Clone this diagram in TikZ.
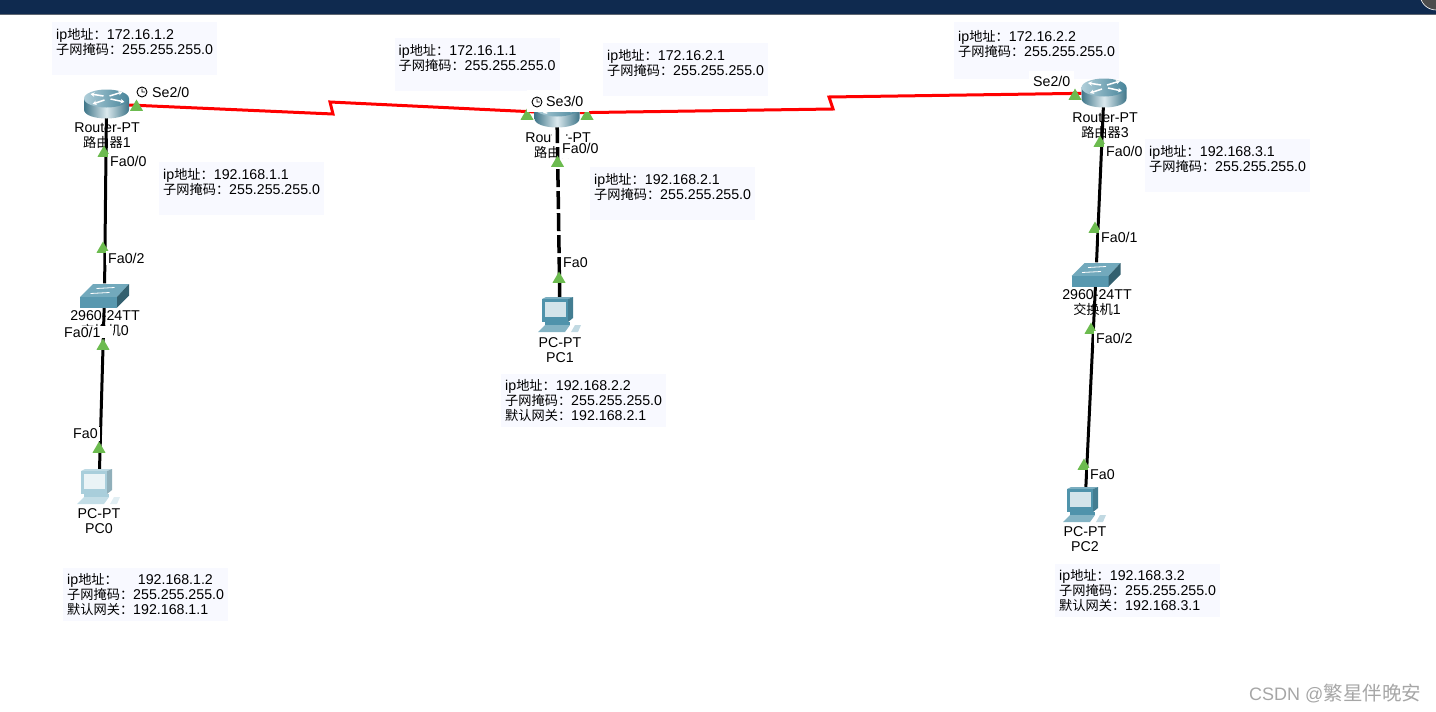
\documentclass[tikz,border=0pt]{standalone}
\usepackage{fontspec}
\setmainfont{Liberation Sans}
\newfontfamily\cjk[Scale=0.93]{Noto Sans CJK SC}
\usetikzlibrary{shapes.geometric,arrows.meta}
\definecolor{infobg}{HTML}{F8F9FF}
\definecolor{topbar}{HTML}{0F2A4F}
\definecolor{portgreen}{HTML}{6CBB4F}
\definecolor{iconteal}{HTML}{4F93AB}
\definecolor{iconpale}{HTML}{A9CEDB}
\newcommand{\ipaddr}{ip{\cjk 地址：}}
\newcommand{\netmask}{{\cjk 子网掩码：}}
\newcommand{\gateway}{{\cjk 默认网关：}}
\begin{document}
\begin{tikzpicture}[x=1pt,y=-1pt,
		every node/.style={inner sep=0,font=\fontsize{14.2}{15}\selectfont},
		infobox/.style={anchor=north west,fill=infobg,text width=157pt,minimum height=53pt,
			inner sep=4pt,align=left},
		devlabel/.style={align=center},
		icon/.style={minimum width=#1,minimum height=24pt},
		portmark/.style={regular polygon,regular polygon sides=3,fill=portgreen,minimum size=15pt},
		portlabel/.style={anchor=west,fill=white,inner xsep=2pt,inner ysep=2pt},
		seriallink/.style={red,line width=3pt,line join=miter},
		cooper/.style={black,line width=3pt},
		pics/routericon/.style={code={
				\path[left color=iconteal!80!black,right color=iconteal!80!black,middle color=white!80!iconteal,draw=none]
				(-22.5,-5.5) -- (-22.5,5.5) .. controls (-22.5,17.5) and (22.5,17.5) .. (22.5,5.5) -- (22.5,-5.5) -- cycle;
				\path[left color=iconteal!45!white,right color=iconteal!90!black] (0,-5.5) ellipse [x radius=22.5,y radius=9];
				\foreach \a/\b/\c/\d in {-3/-8/-16/-10,3/-8/16/-12,-2/-4/-14/0,4/-5/18/-2}
				\draw[white,line width=1.5pt,-{Stealth[length=4pt,width=4.5pt]}] (\a,\b) -- (\c,\d);
		}},
		pics/switchicon/.style={code={
				\fill[iconteal!80!white] (-11.5,-11.5) -- (24.5,-11.5) -- (12.5,1.5) -- (-24.5,1.5) -- cycle;
				\fill[iconteal!95!white] (-24.5,1.5) rectangle (12.5,12);
				\fill[iconteal!65!black] (12.5,1.5) -- (24.5,-11.5) -- (24.5,0) -- (12.5,12) -- cycle;
				\draw[white,line width=.8pt] (-8,-7) -- (10,-8) (-14,-2) -- (5,-3);
		}},
		pics/pcicon/.style={code={
				\fill[#1!75!white] (-18,-16) -- (-14,-18) -- (13,-18) -- (8,-16) -- cycle;
				\fill[#1!85!black] (8,-16) -- (13,-18) -- (13,3) -- (8,7) -- cycle;
				\fill[#1] (-18,-16) rectangle (8,7);
				\fill[#1!25!white] (-15,-13) rectangle (6,2);
				\fill[#1] (-15,7) rectangle (10,10);
				\fill[#1!70!white] (-22,17) -- (-15,10) -- (10,10) -- (5,17) -- cycle;
				\fill[#1!35!white] (15,10) -- (21,10) -- (18,17) -- (11,17) -- cycle;
		}},
		pics/clockicon/.style={code={
				\draw[black,line width=.9pt] (0,0) circle (5) (0,-3.5) -- (0,0) -- (3,0);
		}}]
	\path[use as bounding box,clip] (0,0) rectangle (1436,712);
	% window bar
	\fill[topbar] (0,0) rectangle (1436,14);
	\fill[gray!70!topbar] (0,14) rectangle (1436,15);
	\draw[fill=black!70,draw=white,line width=.6pt] (1436,-6) circle (16);
	% address boxes
	\node[infobox] (boxa) at (52,22) {\ipaddr 172.16.1.2\\\netmask 255.255.255.0\\~};
	\node[infobox] (boxb) at (394.5,38) {\ipaddr 172.16.1.1\\\netmask 255.255.255.0\\~};
	\node[infobox] (boxc) at (603,43) {\ipaddr 172.16.2.1\\\netmask 255.255.255.0\\~};
	\node[infobox,minimum height=57pt] (boxd) at (954,22) {\ipaddr 172.16.2.2\\\netmask 255.255.255.0\\~};
	\node[infobox] (boxe) at (159,162) {\ipaddr 192.168.1.1\\\netmask 255.255.255.0\\~};
	\node[infobox] (boxf) at (590,167) {\ipaddr 192.168.2.1\\\netmask 255.255.255.0\\~};
	\node[infobox] (boxg) at (1145,139) {\ipaddr 192.168.3.1\\\netmask 255.255.255.0\\~};
	\node[infobox] (boxh) at (63,568) {\ipaddr\hspace{20pt}192.168.1.2\\\netmask 255.255.255.0\\\gateway 192.168.1.1};
	\node[infobox] (boxi) at (501,374) {\ipaddr 192.168.2.2\\\netmask 255.255.255.0\\\gateway 192.168.2.1};
	\node[infobox] (boxj) at (1055,564) {\ipaddr 192.168.3.2\\\netmask 255.255.255.0\\\gateway 192.168.3.1};
	% devices
	\node[icon=45pt] (r1) at (106.5,104) {};
	\node[icon=45pt] (r2) at (557,113) {};
	\node[icon=45pt] (r3) at (1104,93) {};
	\node[icon=49pt] (sw0) at (104.5,295.5) {};
	\node[icon=49pt] (sw1) at (1096,274.5) {};
	\node[icon=44pt,minimum height=36pt] (pc0) at (99,487) {};
	\node[icon=44pt,minimum height=36pt] (pc1) at (560,315) {};
	\node[icon=44pt,minimum height=36pt] (pc2) at (1085,505) {};
	\coordinate (zig1) at (333,114);
	\coordinate (zig2) at (330,102);
	\coordinate (zig3) at (833,109);
	\coordinate (zig4) at (829,97);
	% links
	\draw[seriallink] (r1) -- (zig1) -- (zig2) -- (r2);
	\draw[seriallink] (r2) -- (zig3) -- (zig4) -- (r3);
	\draw[cooper] (r1) -- (sw0);
	\draw[cooper] (sw0) -- (pc0);
	\draw[cooper] (r3) -- (sw1);
	\draw[cooper] (sw1) -- (pc2);
	\node[devlabel] (r1lab) at (107,136) {Router-PT\\{\cjk 路由器}1};
	\node[devlabel] (r2lab) at (558,146) {Router-PT\\{\cjk 路由器}2};
	\node[devlabel] (r3lab) at (1105,126) {Router-PT\\{\cjk 路由器}3};
	\node[devlabel] (sw0lab) at (105,324) {2960-24TT\\{\cjk 交换机}0};
	\node[devlabel] (sw1lab) at (1097,303) {2960-24TT\\{\cjk 交换机}1};
	\node[devlabel] (pc0lab) at (99,521.5) {PC-PT\\PC0};
	\node[devlabel] (pc1lab) at (560,350) {PC-PT\\PC1};
	\node[devlabel] (pc2lab) at (1085,539.5) {PC-PT\\PC2};
	\fill[white] (552,130) rectangle (566,146);
	\draw[cooper,line width=3.5pt,dash pattern=on 18pt off 4pt] (r2) -- (pc1);
	\path (r1) pic {routericon} (r2) pic {routericon} (r3) pic {routericon};
	\path (sw0) pic {switchicon} (sw1) pic {switchicon};
	\path (pc0) pic {pcicon=iconpale} (pc1) pic {pcicon=iconteal} (pc2) pic {pcicon=iconteal};
	% port marks
	\foreach \px/\py/\pname in {136.5/107/a,104/153/b,103/249/c,103/346/d,99/449/e,527/116/f,587/116/g,
		557.5/163/h,559/279/i,1075/96/j,1100/143/k,1095/229/l,1091/330/m,1084/466/n}
	\node[portmark] (mark\pname) at (\px,\py) {};
	% port labels
	\node[portlabel] (se20a) at (150,92) {Se2/0};
	\node[portlabel] (fa00a) at (108,161) {Fa0/0};
	\node[portlabel] (fa02a) at (106,258) {Fa0/2};
	\node[portlabel,inner ysep=1pt] (fa01a) at (62,332) {Fa0/1\hspace*{10pt}};
	\node[portlabel] (fa0a) at (71,434) {Fa0};
	\node[portlabel,inner xsep=0,inner ysep=6pt] (se30) at (527,101) {\hspace*{19pt}Se3/0\hspace*{6pt}};
	\node[portlabel,anchor=base west,inner ysep=1pt,text height=10pt,text depth=4pt] (fa00b) at (560,153) {Fa0/0};
	\node[portlabel] (fa0b) at (561,263) {Fa0};
	\node[portlabel,inner xsep=4pt,inner ysep=5pt] (se20b) at (1029,81) {Se2/0};
	\node[portlabel] (fa00c) at (1104,151) {Fa0/0};
	\node[portlabel] (fa01c) at (1099,237) {Fa0/1};
	\node[portlabel] (fa02c) at (1094,338) {Fa0/2};
	\node[portlabel] (fa0c) at (1088,475) {Fa0};
	\path (142,92) pic {clockicon} (537,102) pic {clockicon};
	% watermark
	\node[anchor=west,text=black!35,font=\fontsize{18}{21}\selectfont] (mark) at (1249,693) {CSDN @{\fontsize{21}{21}\selectfont\cjk 繁星伴晚安}};
\end{tikzpicture}
\end{document}
